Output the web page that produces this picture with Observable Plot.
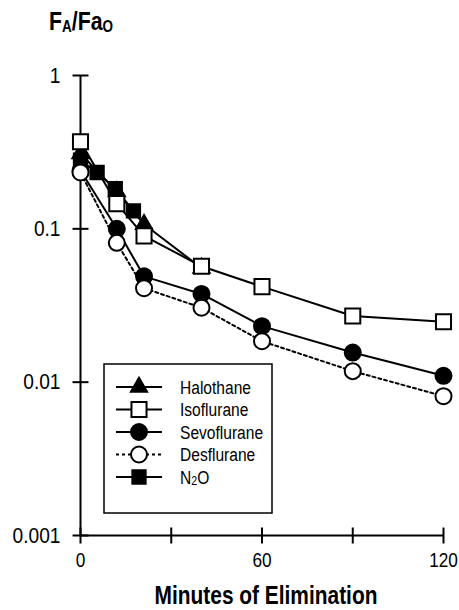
<!DOCTYPE html>
<html><head><meta charset="utf-8">
<script src="https://cdn.jsdelivr.net/npm/d3@7"></script>
<script src="https://cdn.jsdelivr.net/npm/@observablehq/plot@0.6"></script>
<style>
body{margin:0;background:#fff;}
#wrap{position:relative;width:459px;height:610px;overflow:hidden;}
#wrap svg{position:absolute;left:0;top:0;}
</style></head><body><div id="wrap"></div>
<script>
// ---- data ----
const minutes = [0, 12, 21, 40, 60, 90, 120];
const halothaneTimes = [0, 12, 21, 40];
const halothane = [0.31, 0.175, 0.107, 0.0555];
const isoflurane = [0.37, 0.146, 0.090, 0.057, 0.042, 0.027, 0.0248];
const sevoflurane = [0.24, 0.100, 0.049, 0.0376, 0.0232, 0.0156, 0.011];
const desflurane = [0.233, 0.081, 0.041, 0.0306, 0.0185, 0.0118, 0.0081];
const n2oTimes = [0, 5.5, 11.5, 17.5];
const n2o = [0.28, 0.233, 0.183, 0.131];
const xTicks = [0, 30, 60, 90, 120];
const xLabels = [0, 60, 120];
const yTicks = [1, 0.1, 0.01, 0.001];
const yLabels = ["1", "0.1", "0.01", "0.001"];
const seriesNames = ["Halothane", "Isoflurane", "Sevoflurane", "Desflurane", "N2O"];

const FONT = "'Liberation Sans',Arial,sans-serif";
const SQ = 0.82; // horizontal squeeze to imitate a condensed face
const rows = (times, vals) => times.map((t, i) => ({t, v: vals[i]}));
const H = rows(halothaneTimes, halothane);
const I = rows(minutes, isoflurane);
const S = rows(minutes, sevoflurane);
const D = rows(minutes, desflurane);
const N = rows(n2oTimes, n2o);

const hline = {draw(c, s){const h = Math.sqrt(s / Math.PI); c.moveTo(-h, 0); c.lineTo(h, 0);}};
const vline = {draw(c, s){const h = Math.sqrt(s / Math.PI); c.moveTo(0, -h); c.lineTo(0, h);}};

const style = {
  Halothane: {symbol: "triangle", r: 6, fill: "black", dash: null},
  Isoflurane: {symbol: "square", r: 8.5, fill: "white", dash: null},
  Sevoflurane: {symbol: "circle", r: 8, fill: "black", dash: null},
  Desflurane: {symbol: "circle", r: 8, fill: "white", dash: "3,3"},
  N2O: {symbol: "square", r: 7.5, fill: "black", dash: null}
};
const lineOf = (data, name) => Plot.line(data, {x: "t", y: "v", stroke: "black", strokeWidth: 2, strokeDasharray: style[name].dash || undefined});
const dotOf = (data, name) => Plot.dot(data, {x: "t", y: "v", symbol: style[name].symbol, r: style[name].r, fill: style[name].fill, stroke: "black", strokeWidth: 2});

const plot = Plot.plot({
  width: 459, height: 610,
  marginLeft: 80, marginRight: 16, marginTop: 75, marginBottom: 75,
  style: {background: "transparent", overflow: "visible"},
  x: {domain: [0, 120], axis: null},
  y: {type: "log", domain: [0.001, 1], axis: null},
  marks: [
    Plot.ruleX([0], {y1: 1, y2: 0.001, stroke: "black", strokeWidth: 2}),
    Plot.ruleY([0.001], {x1: 0, x2: 120, stroke: "black", strokeWidth: 2}),
    Plot.dot(yTicks, {x: 0, y: d => d, symbol: hline, r: 8, stroke: "black", strokeWidth: 2}),
    Plot.dot(xTicks, {x: d => d, y: 0.001, symbol: vline, r: 8, stroke: "black", strokeWidth: 2}),
    Plot.text(yTicks, {x: 0, y: d => d, text: (d, i) => yLabels[i], textAnchor: "end", dx: -20, fontSize: 22, fontFamily: FONT, fill: "black", className: "ylab"}),
    Plot.text(xLabels, {x: d => d, y: 0.001, text: d => String(d), dy: 25, fontSize: 21, fontFamily: FONT, fill: "black", className: "xlab"}),
    lineOf(I, "Isoflurane"), lineOf(N, "N2O"), lineOf(H, "Halothane"), lineOf(S, "Sevoflurane"), lineOf(D, "Desflurane"),
    dotOf(N, "N2O"), dotOf(H, "Halothane"), dotOf(I, "Isoflurane"), dotOf(S, "Sevoflurane"), dotOf(D, "Desflurane")
  ]
});
// squeeze Plot's texts horizontally around their anchor
d3.select(plot).selectAll("text").each(function() {
  const k = this.closest(".ylab") ? 0.87 : SQ;
  const t = this.getAttribute("transform");
  if (t) this.setAttribute("transform", t + ` scale(${k},1)`);
  else {
    const x = +this.getAttribute("x") || 0, y = +this.getAttribute("y") || 0;
    this.removeAttribute("x"); this.removeAttribute("y");
    this.setAttribute("transform", `translate(${x},${y}) scale(${k},1)`);
  }
});
const wrap = document.getElementById("wrap");
wrap.appendChild(plot);

// ---- overlay: title, axis title, legend ----
const ov = d3.select(wrap).append("svg").attr("width", 459).attr("height", 610)
  .attr("font-family", FONT);
const squeezed = (x, y) => ov.append("g").attr("transform", `translate(${x},${y}) scale(${SQ},1)`);

const title = squeezed(49, 30).append("text").attr("font-weight", "bold").attr("font-size", 26).attr("fill", "black");
title.append("tspan").text("F");
title.append("tspan").attr("font-size", 16.5).attr("dy", 2).text("A");
title.append("tspan").attr("dy", -2).text("/Fa");
title.append("tspan").attr("font-size", 16.5).attr("dy", 2).text("O");

squeezed(266, 604).append("text").attr("text-anchor", "middle")
  .attr("font-weight", "bold").attr("font-size", 25.5).attr("fill", "black").text("Minutes of Elimination");

const lg = ov.append("g");
lg.append("rect").attr("x", 104).attr("y", 364).attr("width", 168).attr("height", 149)
  .attr("fill", "white").attr("stroke", "black").attr("stroke-width", 1.5);
const symMap = {triangle: d3.symbolTriangle, square: d3.symbolSquare, circle: d3.symbolCircle};
seriesNames.forEach((name, i) => {
  const y = 387 + i * 22.5;
  const st = style[name];
  lg.append("line").attr("x1", 116).attr("x2", 162).attr("y1", y).attr("y2", y)
    .attr("stroke", "black").attr("stroke-width", 2).attr("stroke-dasharray", st.dash);
  lg.append("path").attr("transform", `translate(139,${y})`)
    .attr("d", d3.symbol(symMap[st.symbol], Math.PI * st.r * st.r)())
    .attr("fill", st.fill).attr("stroke", "black").attr("stroke-width", 2);
  const t = squeezed(180, y).append("text").attr("dy", "0.36em").attr("font-size", 19).attr("fill", "black");
  if (name === "N2O") {
    t.append("tspan").text("N");
    t.append("tspan").attr("font-size", 13).attr("dy", 1).text("2");
    t.append("tspan").attr("dy", -1).text("O");
  } else t.text(name);
});
</script></body></html>
